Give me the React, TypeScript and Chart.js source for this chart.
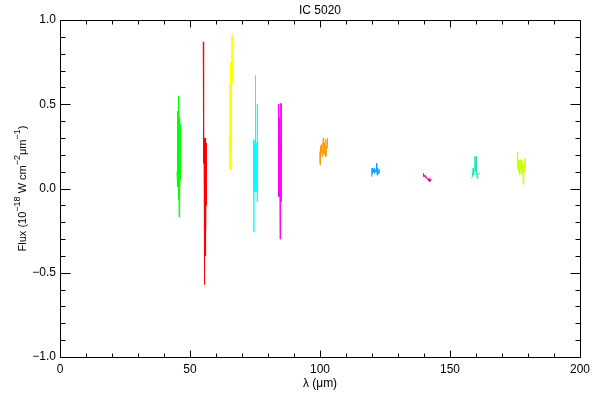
import React, { useEffect, useRef } from "react";
import { Chart, registerables } from "chart.js";

Chart.register(...registerables);

const TITLE = "IC 5020";
const X_LABEL = "λ (μm)";
// Y axis title pieces: [text, isSuperscript]
const Y_LABEL_PARTS: [string, boolean][] = [
  ["Flux (10", false],
  ["\u221218", true],
  [" W cm", false],
  ["\u22122", true],
  ["μm", false],
  ["\u22121", true],
  [")", false],
];

const X_MIN = 0;
const X_MAX = 200;
const Y_MIN = -1;
const Y_MAX = 1;
const X_MAJOR = 50;
const X_MINOR = 10;
const Y_MAJOR = 0.5;
const Y_MINOR = 0.1;

// Spectral segments (wavelength in μm, flux in 1e-18 W cm^-2 μm^-1)
const greenLam = [45.0, 45.05, 45.1, 45.2, 45.25, 45.3, 45.35, 45.45, 45.5, 45.55, 45.6, 45.7, 45.75, 45.8, 45.85, 45.95, 46.0, 46.05, 46.1, 46.15, 46.2, 46.25];
const greenFlux = [0.1, 0.46, 0.03, 0.14, 0.01, 0.12, 0.02, 0.13, -0.065, 0.1, 0.0, 0.12, 0.55, -0.17, 0.08, 0.02, 0.42, 0.0, 0.4, 0.01, 0.38, 0.05];

const redLam = [55.1, 55.12, 55.2, 55.25, 55.3, 55.35, 55.4, 55.45, 55.5, 55.55, 55.6, 55.65, 55.7, 55.75, 55.8, 55.85, 55.9, 55.95, 56.0, 56.05, 56.1, 56.15, 56.2, 56.25];
const redFlux = [0.87, 0.15, 0.54, 0.16, 0.52, 0.18, 0.3, -0.21, 0.28, -0.57, 0.29, -0.25, 0.3, -0.27, 0.29, -0.24, 0.28, -0.26, 0.3, -0.4, 0.28, -0.25, 0.27, -0.1];

const yellowLam = [65.1, 65.15, 65.2, 65.3, 65.4, 65.45, 65.5, 65.55, 65.6, 65.65, 65.7, 65.75, 65.8, 65.9, 65.95, 66.0, 66.1, 66.2, 66.25, 66.3];
const yellowFlux = [0.31, 0.11, 0.3, 0.16, 0.62, 0.11, 0.75, 0.18, 0.6, 0.2, 0.63, 0.19, 0.61, 0.11, 0.63, 0.18, 0.62, 0.91, 0.62, 0.64];

const cyanLam = [74.5, 74.55, 74.6, 74.7, 74.8, 74.9, 75.0, 75.1, 75.15, 75.2, 75.3, 75.4, 75.5, 75.6, 75.7, 75.8, 75.85, 75.9, 75.95];
const cyanFlux = [0.29, -0.26, 0.27, 0.0, 0.26, -0.02, 0.28, 0.67, -0.01, 0.25, -0.02, 0.27, 0.0, 0.25, -0.02, 0.1, 0.5, -0.08, 0.05];

const magentaLam = [84.0, 84.05, 84.1, 84.2, 84.3, 84.35, 84.45, 84.5, 84.6, 84.65, 84.7, 84.8, 84.9, 84.95, 85.0, 85.05, 85.1];
const magentaFlux = [0.5, -0.05, 0.28, -0.04, 0.42, -0.03, 0.27, -0.05, 0.28, -0.3, 0.27, -0.04, 0.28, -0.05, 0.505, -0.08, 0.2];

const orangeLam = [99.9, 100.0, 100.1, 100.3, 100.5, 100.7, 100.9, 101.1, 101.3, 101.4, 101.6, 101.8, 102.0, 102.2, 102.3, 102.5, 102.7, 102.8, 102.9];
const orangeFlux = [0.22, 0.14, 0.25, 0.2, 0.26, 0.21, 0.19, 0.27, 0.3, 0.21, 0.2, 0.27, 0.22, 0.29, 0.19, 0.25, 0.24, 0.3, 0.25];

const blueLam = [119.9, 120.0, 120.2, 120.4, 120.6, 120.8, 121.0, 121.3, 121.6, 121.8, 122.0, 122.2, 122.4, 122.6, 122.8, 123.1];
const blueFlux = [0.07, 0.12, 0.09, 0.11, 0.1, 0.12, 0.09, 0.11, 0.1, 0.15, 0.08, 0.12, 0.1, 0.09, 0.11, 0.11];

const pinkLam = [139.7, 139.8, 140.0, 140.3, 140.6, 140.9, 141.2, 141.5, 141.8, 142.0, 142.2, 142.5, 142.6];
const pinkFlux = [0.07, 0.09, 0.07, 0.08, 0.065, 0.07, 0.055, 0.06, 0.045, 0.06, 0.04, 0.055, 0.05];

const tealLam = [158.3, 158.6, 158.9, 159.1, 159.4, 159.6, 159.8, 160.0, 160.2, 160.5, 160.7, 161.0, 161.5];
const tealFlux = [0.06, 0.07, 0.12, 0.08, 0.13, 0.19, 0.1, 0.19, 0.09, 0.06, 0.09, 0.085, 0.09];

const limeLam = [175.9, 176.0, 176.2, 176.4, 176.6, 176.8, 177.0, 177.2, 177.4, 177.6, 177.8, 178.0, 178.2, 178.4, 178.6, 178.8, 179.1];
const limeFlux = [0.215, 0.12, 0.17, 0.1, 0.16, 0.08, 0.17, 0.11, 0.17, 0.09, 0.15, 0.1, 0.024, 0.14, 0.1, 0.18, 0.12];

const SEGMENT_COLORS = ["#00ff00", "#ff0000", "#ffff00", "#00ffff", "#ff00ff", "#ff9900", "#0099ff", "#ff0099", "#1ee6b4", "#ccff00"];
const SEGMENT_LAMS = [greenLam, redLam, yellowLam, cyanLam, magentaLam, orangeLam, blueLam, pinkLam, tealLam, limeLam];
const SEGMENT_FLUXES = [greenFlux, redFlux, yellowFlux, cyanFlux, magentaFlux, orangeFlux, blueFlux, pinkFlux, tealFlux, limeFlux];

const FAMILY = "'Liberation Sans', Arial, sans-serif";
const FONT = { family: FAMILY, size: 12 };

const boxTicksPlugin = {
  id: "boxTicks",
  afterDraw(chart: any) {
    const { ctx, chartArea } = chart;
    const xs = chart.scales.x;
    const ys = chart.scales.y;
    const L = Math.round(chartArea.left) + 0.5;
    const R = Math.round(chartArea.right) + 0.5;
    const T = Math.round(chartArea.top) + 0.5;
    const B = Math.round(chartArea.bottom) + 0.5;
    ctx.save();
    ctx.strokeStyle = "#000";
    ctx.lineWidth = 1;
    ctx.beginPath();
    ctx.rect(L, T, R - L, B - T);
    const nx = Math.round((X_MAX - X_MIN) / X_MINOR);
    for (let i = 0; i <= nx; i++) {
      const v = X_MIN + i * X_MINOR;
      const major = Math.abs(v / X_MAJOR - Math.round(v / X_MAJOR)) < 1e-6;
      const len = major ? 7 : 4;
      const px = Math.round(xs.getPixelForValue(v)) + 0.5;
      ctx.moveTo(px, B);
      ctx.lineTo(px, B - len);
      ctx.moveTo(px, T);
      ctx.lineTo(px, T + len);
    }
    const ny = Math.round((Y_MAX - Y_MIN) / Y_MINOR);
    for (let i = 0; i <= ny; i++) {
      const v = Y_MIN + i * Y_MINOR;
      const major = Math.abs(v / Y_MAJOR - Math.round(v / Y_MAJOR)) < 1e-6;
      const len = major ? 10 : 5;
      const py = Math.round(ys.getPixelForValue(v)) + 0.5;
      ctx.moveTo(L, py);
      ctx.lineTo(L + len, py);
      ctx.moveTo(R, py);
      ctx.lineTo(R - len, py);
    }
    ctx.stroke();

    // Y axis title with real superscripts
    const mainFont = "11px " + FAMILY;
    const supFont = "9px " + FAMILY;
    let total = 0;
    for (const [t, sup] of Y_LABEL_PARTS) {
      ctx.font = sup ? supFont : mainFont;
      total += ctx.measureText(t).width;
    }
    const cy = (chartArea.top + chartArea.bottom) / 2;
    ctx.translate(23, cy);
    ctx.rotate(-Math.PI / 2);
    ctx.fillStyle = "#000";
    ctx.textBaseline = "middle";
    ctx.textAlign = "left";
    let x = -total / 2;
    for (const [t, sup] of Y_LABEL_PARTS) {
      ctx.font = sup ? supFont : mainFont;
      ctx.fillText(t, x, sup ? -5 : 0);
      x += ctx.measureText(t).width;
    }
    ctx.restore();
  },
};

export default function App() {
  const ref = useRef<HTMLCanvasElement | null>(null);

  useEffect(() => {
    if (!ref.current) return;
    const datasets = SEGMENT_LAMS.map((lams, i) => ({
      label: "segment " + (i + 1),
      data: lams.map((l, j) => ({ x: l, y: SEGMENT_FLUXES[i][j] })),
      borderColor: SEGMENT_COLORS[i],
      backgroundColor: SEGMENT_COLORS[i],
      borderWidth: 1,
      pointRadius: 0,
      tension: 0,
      fill: false,
    }));
    const chart = new Chart(ref.current, {
      type: "line",
      data: { datasets },
      plugins: [boxTicksPlugin],
      options: {
        animation: false,
        responsive: false,
        devicePixelRatio: 1,
        layout: { padding: { left: 0, right: 20, top: 0, bottom: 0 } },
        plugins: {
          legend: { display: false },
          tooltip: { enabled: false },
          title: {
            display: true,
            text: TITLE,
            fullSize: false,
            color: "#000",
            font: { ...FONT, weight: "normal" },
            padding: { top: 3, bottom: 2.6 },
          },
        },
        scales: {
          x: {
            type: "linear",
            min: X_MIN,
            max: X_MAX,
            grid: { display: false, drawTicks: false },
            border: { display: false },
            ticks: {
              stepSize: X_MAJOR,
              color: "#000",
              font: FONT,
              padding: 5,
              maxRotation: 0,
              callback: (v: any) => String(v),
            },
            title: {
              display: true,
              text: X_LABEL,
              color: "#000",
              font: FONT,
              padding: { top: 0, bottom: 9 },
            },
            afterFit: (s: any) => {
              s.height = 43;
            },
          },
          y: {
            type: "linear",
            min: Y_MIN,
            max: Y_MAX,
            grid: { display: false, drawTicks: false },
            border: { display: false },
            ticks: {
              stepSize: Y_MAJOR,
              color: "#000",
              font: FONT,
              padding: 4,
              callback: (v: any) => (v < 0 ? "\u2212" : "") + Math.abs(Number(v)).toFixed(1),
            },
            afterFit: (s: any) => {
              s.width = 60;
            },
          },
        },
      },
    } as any);
    return () => chart.destroy();
  }, []);

  return (
    <div style={{ position: "fixed", left: 0, top: 0, width: 600, height: 400, background: "#fff" }}>
      <canvas ref={ref} width={600} height={400} style={{ width: 600, height: 400 }} />
    </div>
  );
}
